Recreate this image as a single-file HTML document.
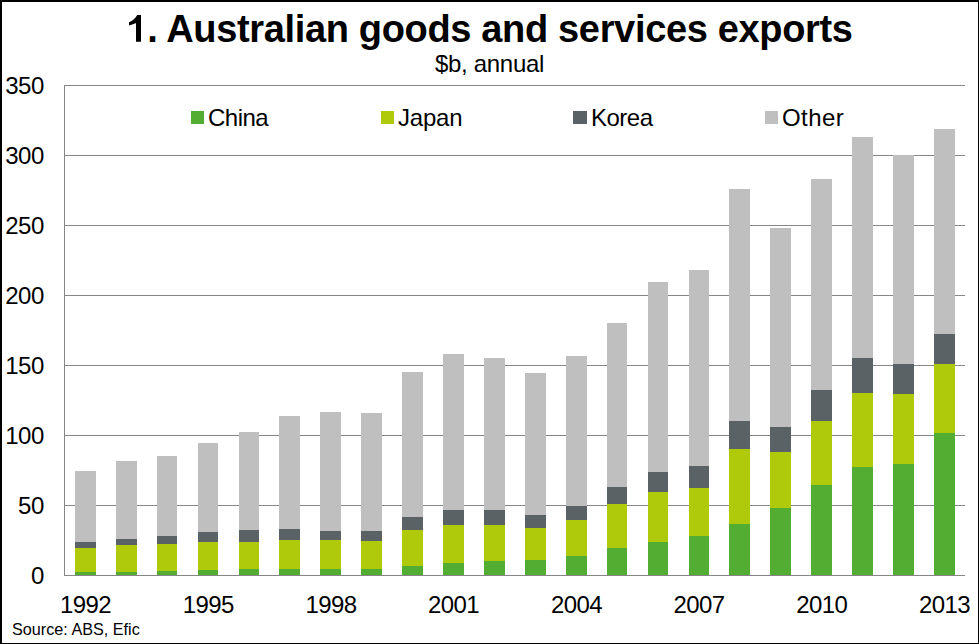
<!DOCTYPE html>
<html><head><meta charset="utf-8"><style>
html,body{margin:0;padding:0;background:#fff;}
body{width:979px;height:644px;overflow:hidden;position:relative;}
svg{position:absolute;left:0;top:0;display:block;}
text{font-family:"Liberation Sans",sans-serif;fill:#000;}
.yl text{letter-spacing:-0.4px;}
.xl text{letter-spacing:-0.6px;}
.lg text{letter-spacing:-0.5px;}
</style></head><body>
<svg width="979" height="644" viewBox="0 0 979 644">
<rect x="0" y="0" width="979" height="644" fill="#fff"/>
<g shape-rendering="crispEdges">
<rect x="64" y="505" width="901" height="1" fill="#868686"/>
<rect x="64" y="435" width="901" height="1" fill="#868686"/>
<rect x="64" y="365" width="901" height="1" fill="#868686"/>
<rect x="64" y="295" width="901" height="1" fill="#868686"/>
<rect x="64" y="225" width="901" height="1" fill="#868686"/>
<rect x="64" y="155" width="901" height="1" fill="#868686"/>
<rect x="64" y="85" width="901" height="1" fill="#868686"/>
<rect x="75" y="471" width="21" height="71" fill="#BFBFBF"/>
<rect x="75" y="542" width="21" height="6" fill="#5B6266"/>
<rect x="75" y="548" width="21" height="24" fill="#AFCA0B"/>
<rect x="75" y="572" width="21" height="3" fill="#53AD33"/>
<rect x="116" y="461" width="21" height="78" fill="#BFBFBF"/>
<rect x="116" y="539" width="21" height="6" fill="#5B6266"/>
<rect x="116" y="545" width="21" height="27" fill="#AFCA0B"/>
<rect x="116" y="572" width="21" height="3" fill="#53AD33"/>
<rect x="157" y="456" width="20" height="80" fill="#BFBFBF"/>
<rect x="157" y="536" width="20" height="8" fill="#5B6266"/>
<rect x="157" y="544" width="20" height="27" fill="#AFCA0B"/>
<rect x="157" y="571" width="20" height="4" fill="#53AD33"/>
<rect x="198" y="443" width="20" height="89" fill="#BFBFBF"/>
<rect x="198" y="532" width="20" height="10" fill="#5B6266"/>
<rect x="198" y="542" width="20" height="28" fill="#AFCA0B"/>
<rect x="198" y="570" width="20" height="5" fill="#53AD33"/>
<rect x="239" y="432" width="20" height="98" fill="#BFBFBF"/>
<rect x="239" y="530" width="20" height="12" fill="#5B6266"/>
<rect x="239" y="542" width="20" height="27" fill="#AFCA0B"/>
<rect x="239" y="569" width="20" height="6" fill="#53AD33"/>
<rect x="279" y="416" width="21" height="113" fill="#BFBFBF"/>
<rect x="279" y="529" width="21" height="11" fill="#5B6266"/>
<rect x="279" y="540" width="21" height="29" fill="#AFCA0B"/>
<rect x="279" y="569" width="21" height="6" fill="#53AD33"/>
<rect x="320" y="412" width="21" height="119" fill="#BFBFBF"/>
<rect x="320" y="531" width="21" height="9" fill="#5B6266"/>
<rect x="320" y="540" width="21" height="29" fill="#AFCA0B"/>
<rect x="320" y="569" width="21" height="6" fill="#53AD33"/>
<rect x="361" y="413" width="21" height="118" fill="#BFBFBF"/>
<rect x="361" y="531" width="21" height="10" fill="#5B6266"/>
<rect x="361" y="541" width="21" height="28" fill="#AFCA0B"/>
<rect x="361" y="569" width="21" height="6" fill="#53AD33"/>
<rect x="402" y="372" width="21" height="145" fill="#BFBFBF"/>
<rect x="402" y="517" width="21" height="13" fill="#5B6266"/>
<rect x="402" y="530" width="21" height="36" fill="#AFCA0B"/>
<rect x="402" y="566" width="21" height="9" fill="#53AD33"/>
<rect x="443" y="354" width="21" height="156" fill="#BFBFBF"/>
<rect x="443" y="510" width="21" height="15" fill="#5B6266"/>
<rect x="443" y="525" width="21" height="38" fill="#AFCA0B"/>
<rect x="443" y="563" width="21" height="12" fill="#53AD33"/>
<rect x="484" y="358" width="21" height="152" fill="#BFBFBF"/>
<rect x="484" y="510" width="21" height="15" fill="#5B6266"/>
<rect x="484" y="525" width="21" height="36" fill="#AFCA0B"/>
<rect x="484" y="561" width="21" height="14" fill="#53AD33"/>
<rect x="525" y="373" width="21" height="142" fill="#BFBFBF"/>
<rect x="525" y="515" width="21" height="13" fill="#5B6266"/>
<rect x="525" y="528" width="21" height="32" fill="#AFCA0B"/>
<rect x="525" y="560" width="21" height="15" fill="#53AD33"/>
<rect x="566" y="356" width="21" height="150" fill="#BFBFBF"/>
<rect x="566" y="506" width="21" height="14" fill="#5B6266"/>
<rect x="566" y="520" width="21" height="36" fill="#AFCA0B"/>
<rect x="566" y="556" width="21" height="19" fill="#53AD33"/>
<rect x="607" y="323" width="20" height="164" fill="#BFBFBF"/>
<rect x="607" y="487" width="20" height="17" fill="#5B6266"/>
<rect x="607" y="504" width="20" height="44" fill="#AFCA0B"/>
<rect x="607" y="548" width="20" height="27" fill="#53AD33"/>
<rect x="648" y="282" width="20" height="190" fill="#BFBFBF"/>
<rect x="648" y="472" width="20" height="20" fill="#5B6266"/>
<rect x="648" y="492" width="20" height="50" fill="#AFCA0B"/>
<rect x="648" y="542" width="20" height="33" fill="#53AD33"/>
<rect x="689" y="270" width="20" height="196" fill="#BFBFBF"/>
<rect x="689" y="466" width="20" height="22" fill="#5B6266"/>
<rect x="689" y="488" width="20" height="48" fill="#AFCA0B"/>
<rect x="689" y="536" width="20" height="39" fill="#53AD33"/>
<rect x="729" y="189" width="21" height="232" fill="#BFBFBF"/>
<rect x="729" y="421" width="21" height="28" fill="#5B6266"/>
<rect x="729" y="449" width="21" height="75" fill="#AFCA0B"/>
<rect x="729" y="524" width="21" height="51" fill="#53AD33"/>
<rect x="770" y="228" width="21" height="199" fill="#BFBFBF"/>
<rect x="770" y="427" width="21" height="25" fill="#5B6266"/>
<rect x="770" y="452" width="21" height="56" fill="#AFCA0B"/>
<rect x="770" y="508" width="21" height="67" fill="#53AD33"/>
<rect x="811" y="179" width="21" height="211" fill="#BFBFBF"/>
<rect x="811" y="390" width="21" height="31" fill="#5B6266"/>
<rect x="811" y="421" width="21" height="64" fill="#AFCA0B"/>
<rect x="811" y="485" width="21" height="90" fill="#53AD33"/>
<rect x="852" y="137" width="21" height="221" fill="#BFBFBF"/>
<rect x="852" y="358" width="21" height="35" fill="#5B6266"/>
<rect x="852" y="393" width="21" height="74" fill="#AFCA0B"/>
<rect x="852" y="467" width="21" height="108" fill="#53AD33"/>
<rect x="893" y="155" width="21" height="209" fill="#BFBFBF"/>
<rect x="893" y="364" width="21" height="30" fill="#5B6266"/>
<rect x="893" y="394" width="21" height="70" fill="#AFCA0B"/>
<rect x="893" y="464" width="21" height="111" fill="#53AD33"/>
<rect x="934" y="129" width="21" height="205" fill="#BFBFBF"/>
<rect x="934" y="334" width="21" height="30" fill="#5B6266"/>
<rect x="934" y="364" width="21" height="69" fill="#AFCA0B"/>
<rect x="934" y="433" width="21" height="142" fill="#53AD33"/>
<rect x="64" y="85" width="1" height="491" fill="#868686"/>
<rect x="64" y="575" width="901" height="1" fill="#868686"/>
<rect x="191" y="111" width="13" height="13" fill="#53AD33"/>
<rect x="381" y="111" width="13" height="13" fill="#AFCA0B"/>
<rect x="573" y="111" width="14" height="13" fill="#5B6266"/>
<rect x="765" y="111" width="13" height="13" fill="#BFBFBF"/>
</g>
<g class="lg" font-size="24">
<text x="208" y="126">China</text>
<text x="398" y="126" style="letter-spacing:-0.2px">Japan</text>
<text x="591" y="126">Korea</text>
<text x="782" y="126" style="letter-spacing:0.4px">Other</text>
</g>
<g class="yl" font-size="24">
<text x="44.0" y="584" text-anchor="end">0</text>
<text x="44.0" y="514" text-anchor="end">50</text>
<text x="44.0" y="444" text-anchor="end">100</text>
<text x="44.0" y="374" text-anchor="end">150</text>
<text x="44.0" y="304" text-anchor="end">200</text>
<text x="44.0" y="234" text-anchor="end">250</text>
<text x="44.0" y="164" text-anchor="end">300</text>
<text x="44.0" y="94" text-anchor="end">350</text>
</g>
<g class="xl" font-size="24">
<text x="85.5" y="613" text-anchor="middle">1992</text>
<text x="208.2" y="613" text-anchor="middle">1995</text>
<text x="330.9" y="613" text-anchor="middle">1998</text>
<text x="453.6" y="613" text-anchor="middle">2001</text>
<text x="576.4" y="613" text-anchor="middle">2004</text>
<text x="699.1" y="613" text-anchor="middle">2007</text>
<text x="821.8" y="613" text-anchor="middle">2010</text>
<text x="944.5" y="613" text-anchor="middle">2013</text>
</g>
<text x="489.5" y="42" text-anchor="middle" font-size="38" font-weight="bold" letter-spacing="-0.34"><tspan style="fill:none">1</tspan>. Australian goods and services exports</text>
<text x="489.5" y="72" text-anchor="middle" font-size="24" letter-spacing="-0.3">$b, annual</text>
<text x="12" y="634.5" font-size="16.2">Source: ABS, Efic</text>
<path d="M136,41.8 L141,41.8 L141,15 L137.2,15 C135.6,18.2 132.6,21 129,22.2 L129,25.6 C131.6,25 134,24 136,23.1 Z" fill="#000"/>
<g shape-rendering="crispEdges" fill="#000">
<rect x="0" y="0" width="979" height="2"/>
<rect x="0" y="0" width="2" height="644"/>
<rect x="978" y="0" width="1" height="644"/>
<rect x="0" y="643" width="979" height="1"/>
</g>
</svg>
</body></html>
